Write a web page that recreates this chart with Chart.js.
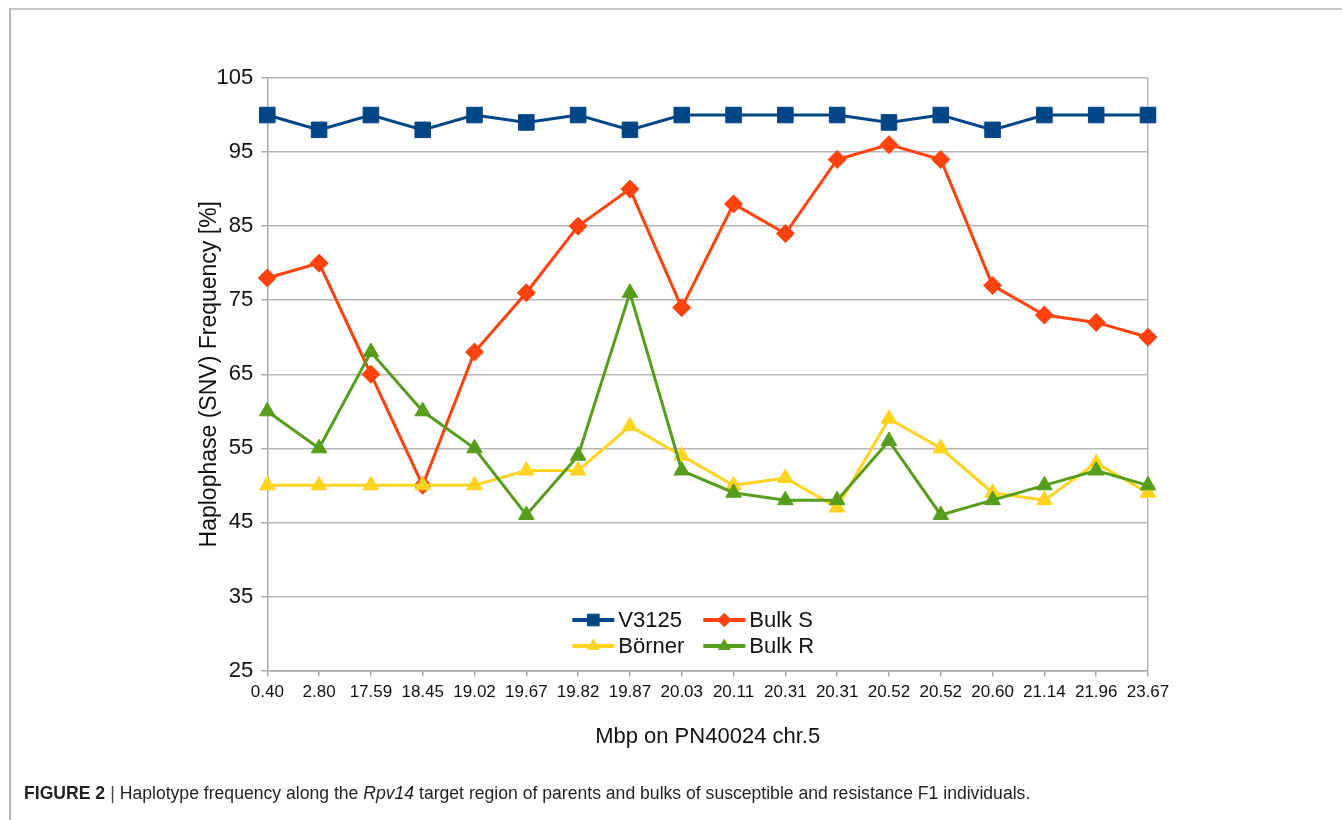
<!DOCTYPE html>
<html>
<head>
<meta charset="utf-8">
<script src="https://cdn.jsdelivr.net/npm/chart.js@4.4.1/dist/chart.umd.min.js"></script>
<style>
  html, body { margin: 0; padding: 0; background: #fff; }
  body { width: 1342px; height: 820px; position: relative; overflow: hidden; font-family: "Liberation Sans", Arial, sans-serif; }
  #frame { position: absolute; left: 9px; top: 8px; right: -4px; bottom: -4px; border-top: 2px solid #c6c6c6; border-left: 2px solid #b4b4b4; }
  #chart { position: absolute; left: 0; top: 0; }
  #caption { position: absolute; left: 24px; top: 782px; font-size: 17.6px; line-height: 22px; color: #231f20; white-space: nowrap; }
  #caption b { font-weight: bold; }
  #caption .bar { color: #444; padding: 0 5px; }
</style>
</head>
<body>
<div id="frame"></div>
<canvas id="chart" width="1342" height="820"></canvas>
<div id="caption"><b>FIGURE 2</b><span class="bar">|</span>Haplotype frequency along the <i>Rpv14</i> target region of parents and bulks of susceptible and resistance F1 individuals.</div>
<script>
// positions along chr.5 (Mbp)
const positions = ['0.40', '2.80', '17.59', '18.45', '19.02', '19.67', '19.82', '19.87', '20.03',
                   '20.11', '20.31', '20.31', '20.52', '20.52', '20.60', '21.14', '21.96', '23.67'];

const v3125 = [100, 98, 100, 98, 100, 99, 100, 98, 100, 100, 100, 100, 99, 100, 98, 100, 100, 100];
const bulkS = [78, 80, 65, 50, 68, 76, 85, 90, 74, 88, 84, 94, 96, 94, 77, 73, 72, 70];
const borner = [50, 50, 50, 50, 50, 52, 52, 58, 54, 50, 51, 47, 59, 55, 49, 48, 53, 49];
const bulkR = [60, 55, 68, 60, 55, 46, 54, 76, 52, 49, 48, 48, 56, 46, 48, 50, 52, 50];

const yTicks = [25, 35, 45, 55, 65, 75, 85, 95, 105];

(function(){
  const gridGray = '#b5b5b5';
  const axisGray = '#a8a8a8';

  function series(label, data, color, style, radius, order) {
    return {
      label: label, data: data, borderColor: color, backgroundColor: color,
      pointBackgroundColor: color, pointBorderColor: color, pointBorderWidth: 1,
      pointStyle: style, pointRadius: radius, pointHoverRadius: radius,
      borderWidth: 3, tension: 0, clip: false, order: order
    };
  }

  // legend drawn as a 2x2 block inside the plot, like the original
  const legendBox = {
    id: 'legendBox',
    afterDatasetsDraw(chart) {
      const ctx = chart.ctx, area = chart.chartArea;
      const cols = [area.left + 305, area.left + 436];
      const rows = [area.bottom - 50.5, area.bottom - 24.5];
      chart.data.datasets.forEach((ds, k) => {
        const x = cols[k % 2], y = rows[Math.floor(k / 2)];
        ctx.save();
        ctx.strokeStyle = ds.borderColor;
        ctx.lineWidth = 4;
        ctx.beginPath();
        ctx.moveTo(x, y);
        ctx.lineTo(x + 42, y);
        ctx.stroke();
        ctx.fillStyle = ds.pointBackgroundColor;
        ctx.lineWidth = 1;
        Chart.helpers.drawPoint(ctx, { pointStyle: ds.pointStyle, radius: ds.pointRadius * 0.75, borderWidth: 1 }, x + 21, y);
        ctx.fillStyle = '#111';
        ctx.font = '22px "Liberation Sans", Arial, sans-serif';
        ctx.textBaseline = 'middle';
        ctx.textAlign = 'left';
        ctx.fillText(ds.label, x + 46, y + 1);
        ctx.restore();
      });
    }
  };

  new Chart(document.getElementById('chart'), {
    type: 'line',
    data: {
      labels: positions,
      datasets: [
        series('V3125', v3125, '#004586', 'rect', 11, 3),
        series('Bulk S', bulkS, '#ff420e', 'rectRot', 9, 2),
        series('Börner', borner, '#ffd320', 'triangle', 9, 1),
        series('Bulk R', bulkR, '#579d1c', 'triangle', 9, 0)
      ]
    },
    options: {
      responsive: false,
      animation: false,
      devicePixelRatio: 1,
      layout: { padding: { left: 196, top: 78, right: 194, bottom: 69.5 } },
      plugins: { legend: { display: false }, tooltip: { enabled: false } },
      scales: {
        x: {
          offset: false,
          afterFit: s => { s.height = 80; },
          grid: {
            drawOnChartArea: true,
            color: c => c.index === positions.length - 1 ? gridGray : 'transparent',
            tickColor: axisGray, tickLength: 6, lineWidth: 1.5
          },
          border: { color: axisGray, width: 1.5 },
          ticks: { color: '#111', padding: 6, maxRotation: 0, autoSkip: false,
                   font: { family: '"Liberation Sans", Arial, sans-serif', size: 17 } },
          title: { display: true, text: 'Mbp on PN40024 chr.5', color: '#111', padding: 0,
                   font: { family: '"Liberation Sans", Arial, sans-serif', size: 22 } }
        },
        y: {
          min: yTicks[0], max: yTicks[yTicks.length - 1],
          afterFit: s => { s.width = 71.3; },
          afterBuildTicks: s => { s.ticks = yTicks.map(v => ({ value: v })); },
          grid: { color: gridGray, tickColor: axisGray, tickLength: 6, lineWidth: 1.5 },
          border: { color: axisGray, width: 1.5 },
          ticks: { color: '#111', padding: 8,
                   font: { family: '"Liberation Sans", Arial, sans-serif', size: 22 } },
          title: { display: true, text: 'Haplophase (SNV) Frequency [%]', color: '#111', padding: 0,
                   font: { family: '"Liberation Sans", Arial, sans-serif', size: 23 } }
        }
      }
    },
    plugins: [legendBox]
  });
})();
</script>
</body>
</html>
